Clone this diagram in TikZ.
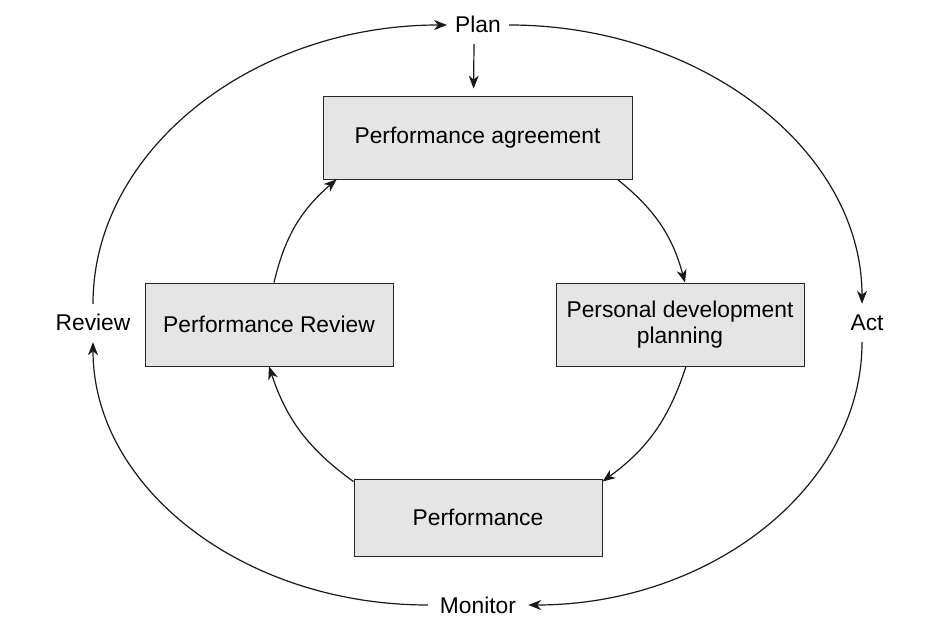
\documentclass[tikz,border=0pt]{standalone}
\usepackage{fontspec}
\setmainfont{Liberation Sans}
\usetikzlibrary{arrows.meta}

\tikzset{
  stage/.style={draw=black!85, fill=black!10, line width=0.8pt, align=center, inner sep=0pt},
  phase/.style={inner xsep=8pt, inner ysep=11pt, text height=16pt, text depth=0pt},
  flow/.style={-{Stealth[length=13pt,width=10pt,inset=4pt]}, line width=1.2pt, black!90},
}

\begin{document}
\begin{tikzpicture}[x=1pt, y=1pt, font=\fontsize{22.8}{26}\selectfont]
  \useasboundingbox (0,0) rectangle (933,639);

  \node (plan) [phase] at (478,614) {Plan};
  \node (act) [phase] at (867,316) {Act};
  \node (monitor) [phase, inner xsep=12pt] at (478,34) {Monitor};
  \node (review) [phase] at (93,316) {Review};

  \node (agree) [stage, minimum width=309pt, minimum height=83pt] at (477.5,501.5) {Performance agreement};
  \node (pdp) [stage, minimum width=248pt, minimum height=83pt] at (680,314.5) {Personal development\\planning};
  \node (perf) [stage, minimum width=248pt, minimum height=77pt] at (478,121.5) {Performance};
  \node (prev) [stage, minimum width=248pt, minimum height=83pt] at (269,314.5) {Performance Review};

  % outer cycle
  \draw[flow, shorten >=7pt] ([xshift=-4pt]plan.south) -- ([xshift=-4pt]agree.north);
  \draw[flow] (plan.east) .. controls +(193,0) and +(0,153) .. ([xshift=-5pt]act.north);
  \draw[flow] ([xshift=-5pt]act.south) .. controls +(0,-145) and +(182,0) .. (monitor.east);
  \draw[flow] (monitor.west) .. controls +(-185,0) and +(0,-145) .. (review.south);
  \draw[flow] (review.north) .. controls +(0,153) and +(-195,0) .. (plan.west);

  % inner cycle
  \draw[flow] ([xshift=-15pt]agree.south east) to[bend left=18] ([xshift=5pt]pdp.north);
  \draw[flow] ([xshift=6pt]pdp.south) to[bend left=18] ([yshift=-3pt]perf.north east);
  \draw[flow] ([yshift=-3pt]perf.north west) to[bend left=18] (prev.south);
  \draw[flow] ([xshift=5pt]prev.north) to[bend left=18] ([xshift=14pt]agree.south west);
\end{tikzpicture}
\end{document}
